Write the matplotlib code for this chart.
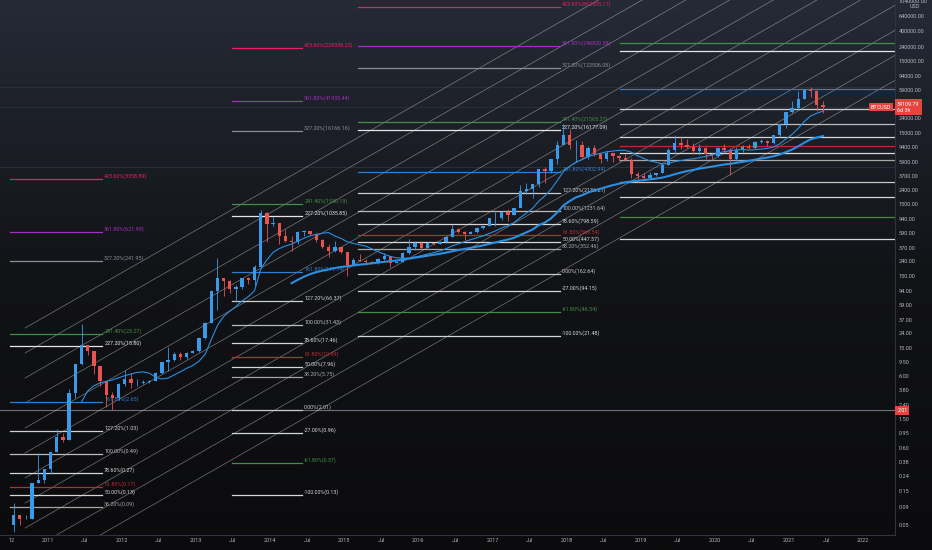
import numpy as np
import matplotlib
matplotlib.use("Agg")
import matplotlib.pyplot as plt
from matplotlib.colors import LinearSegmentedColormap
from matplotlib.ticker import NullLocator

plt.rcParams['font.family'] = ['Roboto', 'DejaVu Sans']

# monthly BTCUSD candles, Jul 2010 .. Jun 2021 (open = previous close)
first_open = 0.05
closes = [0.07, 0.06, 0.06, 0.19, 0.21, 0.30,
          0.52, 0.86, 0.78, 3.50, 8.74, 16.10, 13.35, 8.19, 5.14, 3.25, 2.97, 4.72,
          5.48, 4.86, 4.87, 4.95, 5.16, 6.69, 9.35, 10.17, 12.40, 11.20, 12.57, 13.45,
          20.41, 33.38, 93.03, 139.23, 128.84, 97.51, 106.21, 141.0, 133.0, 203.0, 1130.0, 805.0,
          830.0, 550.0, 458.0, 446.0, 627.0, 640.0, 587.0, 480.0, 387.0, 338.0, 376.0, 320.0,
          217.0, 254.0, 244.0, 236.0, 230.0, 263.0, 284.0, 230.0, 236.0, 314.0, 377.0, 430.0,
          368.0, 437.0, 416.0, 448.0, 531.0, 673.0, 624.0, 575.0, 609.0, 700.0, 742.0, 964.0,
          970.0, 1190.0, 1080.0, 1348.0, 2300.0, 2480.0, 2875.0, 4700.0, 4340.0, 6450.0, 10000.0, 14150.0,
          10200.0, 10300.0, 6900.0, 9240.0, 7500.0, 6400.0, 7730.0, 7030.0, 6630.0, 6300.0, 4000.0, 3740.0,
          3460.0, 3850.0, 4100.0, 5300.0, 8550.0, 10800.0, 10100.0, 9600.0, 8300.0, 9150.0, 7550.0, 7200.0,
          9350.0, 8550.0, 6440.0, 8630.0, 9450.0, 9140.0, 11350.0, 11650.0, 10780.0, 13800.0, 19700.0, 29000.0,
          33100.0, 45200.0, 58800.0, 57700.0, 37300.0, 34109.79]
highs = [0.10, 0.07, 0.07, 0.19, 0.50, 0.30,
         0.52, 1.10, 0.95, 3.99, 9.00, 31.91, 16.50, 13.50, 8.20, 5.20, 3.55, 4.80,
         7.38, 6.70, 5.50, 5.32, 5.23, 6.85, 9.57, 15.40, 12.90, 12.95, 12.95, 13.70,
         20.8, 34.0, 95.7, 266.0, 139.0, 130.0, 111.0, 141.0, 147.0, 215.0, 1242.0, 1160.0,
         1000.0, 710.0, 680.0, 540.0, 630.0, 670.0, 630.0, 600.0, 495.0, 415.0, 460.0, 385.0,
         320.0, 265.0, 300.0, 260.0, 247.0, 268.0, 316.0, 285.0, 245.0, 330.0, 500.0, 465.0,
         460.0, 445.0, 440.0, 470.0, 550.0, 780.0, 705.0, 630.0, 630.0, 720.0, 755.0, 975.0,
         1160.0, 1210.0, 1300.0, 1350.0, 2780.0, 3000.0, 2920.0, 4740.0, 5000.0, 6470.0, 11400.0, 19800.0,
         17200.0, 11800.0, 11700.0, 9750.0, 10000.0, 7780.0, 8500.0, 7750.0, 7400.0, 7680.0, 6600.0, 4240.0,
         4150.0, 4200.0, 4140.0, 5640.0, 9100.0, 13880.0, 13200.0, 12300.0, 10950.0, 10500.0, 9500.0, 7750.0,
         9580.0, 10500.0, 9200.0, 9460.0, 10080.0, 10400.0, 11450.0, 12480.0, 12070.0, 14100.0, 19860.0, 29300.0,
         41950.0, 58350.0, 61780.0, 64860.0, 59500.0, 41300.0]
lows = [0.04, 0.05, 0.06, 0.06, 0.19, 0.19,
        0.26, 0.52, 0.72, 0.76, 3.00, 8.70, 12.00, 6.50, 4.30, 2.20, 2.00, 2.82,
        4.38, 4.11, 4.40, 4.68, 4.85, 5.16, 6.47, 7.10, 9.75, 9.95, 10.26, 12.50,
        13.1, 19.6, 33.1, 50.0, 79.0, 88.0, 65.0, 99.0, 115.0, 110.0, 199.0, 450.0,
        750.0, 420.0, 450.0, 340.0, 420.0, 550.0, 565.0, 445.0, 375.0, 275.0, 320.0, 310.0,
        152.0, 212.0, 240.0, 215.0, 225.0, 219.0, 255.0, 198.0, 225.0, 235.0, 300.0, 350.0,
        355.0, 365.0, 405.0, 415.0, 440.0, 525.0, 605.0, 480.0, 590.0, 605.0, 690.0, 740.0,
        750.0, 920.0, 890.0, 1080.0, 1360.0, 2100.0, 1830.0, 2670.0, 2950.0, 4100.0, 5500.0, 10700.0,
        9000.0, 5900.0, 6400.0, 6430.0, 7020.0, 5760.0, 6100.0, 5880.0, 6100.0, 6100.0, 3480.0, 3122.0,
        3350.0, 3390.0, 3730.0, 4080.0, 5300.0, 7500.0, 9060.0, 9320.0, 7710.0, 7300.0, 6500.0, 6430.0,
        6850.0, 8450.0, 3850.0, 6150.0, 8100.0, 8900.0, 8970.0, 10950.0, 9880.0, 10370.0, 13200.0, 17600.0,
        28100.0, 32300.0, 45000.0, 47000.0, 30000.0, 28800.0]

# fibonacci tools
fib_levels = [4.236, 3.618, 3.272, 2.414, 2.272, 1.618, 1.272, 1.0, 0.786, 0.618, 0.5, 0.382,
              0.0, -0.27, -0.618, -1.0]
fib_colors = ['#e91e63', '#a12fbf', '#8a8d96', '#3f8f46', '#e6e6e6', '#2f7fd0', '#cfcfcf', '#bdbdbd',
              '#d6d6d6', '#c0292f', '#d6d6d6', '#a5a5a5', '#c8c8c8', '#d6d6d6', '#3f8f46', '#d6d6d6']
g1_values = [3358.89, 621.99, 241.95, 23.27, 15.80, 2.65, 1.03, 0.49, 0.27, 0.17, 0.13, 0.09]
g2_values = [229338.22, 41935.44, 16166.16, 1530.19, 1035.85, 171.74, 66.37, 31.43, 17.46, 10.99,
             7.96, 5.75, 2.01, 0.96, 0.37, 0.13]
g3_values = [862505.11, 246820.58, 122506.08, 21565.27, 16177.09, 4302.94, 2136.21, 1231.64, 798.59,
             568.54, 447.57, 352.46, 162.64, 94.15, 46.54, 21.48]
g4_zero, g4_hundred = 3122.0, 19783.0
g_spans = [(2010.49, 2011.735), (2013.488, 2014.432), (2015.187, 2017.911), (2018.72, 2023.0)]

# parallel channel rays
ray_start = 2010.697
ray_prices = [28.2, 12.62, 5.65, 2.53, 1.132, 0.507, 0.227, 0.1015, 0.0454, 0.0203, 0.0091]
ray_growth = 0.5924  # decades per year

# full width horizontal lines
hlines = [64800.0, 34109.79, 4950.0]
support = 2.01

yticks = [1040000, 640000, 400000, 240000, 150000, 94000, 59000, 24000, 15000, 9400, 5900, 3700,
          2400, 1500, 940, 590, 370, 240, 150, 94, 59, 37, 24, 15, 9.5, 6, 3.8, 2.4, 1.5, 0.95,
          0.6, 0.38, 0.24, 0.15, 0.09, 0.05]
years = list(range(2011, 2023))

fig = plt.figure(figsize=(9.32, 5.5), dpi=100)
bg = fig.add_axes([0, 0, 1, 1], zorder=-10)
cmap = LinearSegmentedColormap.from_list('tvbg', ['#0b0b0d', '#121317', '#252a35'])
bg.imshow(np.linspace(0, 1, 256).reshape(-1, 1), aspect='auto', cmap=cmap,
          origin='lower', extent=[0, 1, 0, 1])
bg.axis('off')

ax = fig.add_axes([0, 15 / 550, 895 / 932, 535 / 550])
ax.set_facecolor('none')
ax.set_yscale('log')
ax.set_xlim(2010.359, 2022.43)
ax.set_ylim(0.03625, 1.075e6)

# horizontal lines across the chart
for p in hlines:
    ax.axhline(p, color='#2b2f3a', lw=0.7, zorder=1)
ax.axhline(support, color='#6d707a', lw=0.8, zorder=1)

# channel rays
t_end = 2023.0
for p in ray_prices:
    ax.plot([ray_start, t_end], [p, p * 10 ** (ray_growth * (t_end - ray_start))],
            color='#d8d8d8', lw=0.5, alpha=0.5, zorder=1.5)

# fib groups
groups = [g1_values, g2_values, g3_values]
for gi, vals in enumerate(groups):
    x0, x1 = g_spans[gi]
    for lvl, col, v in zip(fib_levels, fib_colors, vals):
        ax.plot([x0, x1], [v, v], color=col, lw=0.9, zorder=2)
        if 0.036 < v < 1.0e6:
            ax.text(x1 + 0.03, v, f"{lvl * 100:.2f}%({v:.2f})", color=col, fontsize=3.9,
                    va='bottom', ha='left', zorder=2, clip_on=True)
x0, x1 = g_spans[3]
for lvl, col in zip(fib_levels, fib_colors):
    v = 10 ** (np.log10(g4_zero) + lvl * (np.log10(g4_hundred) - np.log10(g4_zero)))
    ax.plot([x0, x1], [v, v], color=col, lw=0.9, zorder=2)

# candles
n = len(closes)
t = 2010.5 + (np.arange(n) + 0.5) / 12
opens = np.array([first_open] + closes[:-1])
c = np.array(closes)
up = c >= opens
cols = np.where(up, '#3a99e8', '#e8524f')
ax.vlines(t, lows, highs, colors=cols, lw=0.6, zorder=3)
lo = np.minimum(opens, c)
hi = np.maximum(opens, c)
ax.bar(t, hi - lo, bottom=lo, width=0.045, color=cols, zorder=3.1, linewidth=0)

# moving averages (about 50 and 200 weeks)
for win, lw in [(12, 0.8), (46, 1.5)]:
    ma = np.convolve(c, np.ones(win) / win, mode='valid')
    ax.plot(t[win - 1:], ma, color='#2a8fe0', lw=lw, zorder=3.5)

# axes styling
for s in ['left', 'top']:
    ax.spines[s].set_visible(False)
for s in ['right', 'bottom']:
    ax.spines[s].set_color('#2f333e')
    ax.spines[s].set_linewidth(0.8)
ax.yaxis.tick_right()
ax.yaxis.set_minor_locator(NullLocator())
ax.set_yticks(yticks)
ax.set_yticklabels([f"{v:.2f}" for v in yticks])
ax.tick_params(axis='y', length=0, pad=2.5, labelsize=4.0, labelcolor='#b2b5be')

xt = [2010.52]
xl = ['12']
for y in years:
    xt.append(y)
    xl.append(str(y))
    if y < 2022:
        xt.append(y + 0.5)
        xl.append('Jul')
ax.set_xticks(xt)
ax.set_xticklabels(xl)
ax.xaxis.set_minor_locator(NullLocator())
ax.tick_params(axis='x', length=0, pad=2.5, labelsize=4.0, labelcolor='#b2b5be')

# price labels
ytr = ax.get_yaxis_transform()
ax.text(1.0025, closes[-1], f"{closes[-1]:.2f}\n6d 3h", transform=ytr, fontsize=3.9, color='white',
        va='center', ha='left', linespacing=1.3, clip_on=False, zorder=10,
        bbox=dict(boxstyle='square,pad=0.45', fc='#e8433f', ec='none'))
ax.text(0.996, closes[-1], "BTCUSD", transform=ytr, fontsize=3.9, color='white',
        va='center', ha='right', clip_on=False, zorder=10,
        bbox=dict(boxstyle='square,pad=0.3', fc='#e8433f', ec='none'))
ax.text(1.0025, support, f"{support:.2f}", transform=ytr, fontsize=3.9, color='white',
        va='center', ha='left', clip_on=False, zorder=10,
        bbox=dict(boxstyle='square,pad=0.35', fc='#e8433f', ec='none'))
fig.text(0.976, 1 - 7 / 550, 'USD', fontsize=3.9, color='#b2b5be', va='center', ha='left')

fig.savefig('out.png', dpi=100)
